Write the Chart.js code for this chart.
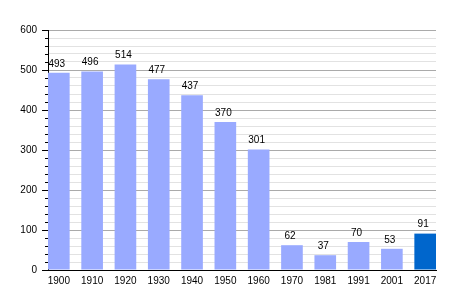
<!DOCTYPE html>
<html>
<head>
<meta charset="utf-8">
<script src="https://cdn.jsdelivr.net/npm/chart.js@4"></script>
<style>
  html, body { margin: 0; padding: 0; background: #fff; }
  #wrap { width: 464px; height: 300px; }
</style>
</head>
<body>
<div id="wrap"><canvas id="popChart" width="464" height="300"></canvas></div>
<script>
// Data
const years = ['1900', '1910', '1920', '1930', '1940', '1950', '1960', '1970', '1981', '1991', '2001', '2017'];
const population = [493, 496, 514, 477, 437, 370, 301, 62, 37, 70, 53, 91];
const barColors = ['#99aaff', '#99aaff', '#99aaff', '#99aaff', '#99aaff', '#99aaff',
                   '#99aaff', '#99aaff', '#99aaff', '#99aaff', '#99aaff', '#0066cc'];
const yMax = 600;
const yStep = 20;

// draws the numbers above each bar
const valueLabels = {
    id: 'valueLabels',
    afterDatasetsDraw(chart) {
        const ctx = chart.ctx;
        const meta = chart.getDatasetMeta(0);
        ctx.save();
        ctx.font = '10px "Liberation Sans", Arial, sans-serif';
        ctx.fillStyle = '#000';
        ctx.textAlign = 'center';
        ctx.textBaseline = 'bottom';
        meta.data.forEach((bar, i) => {
            ctx.fillText(population[i], bar.x - 2, bar.y - 4);
        });
        ctx.restore();
    }
};

// y-axis tick marks: long on hundreds, short otherwise
const yTickMarks = {
    id: 'yTickMarks',
    afterDraw(chart) {
        const ctx = chart.ctx;
        const y = chart.scales.y;
        const left = chart.chartArea.left;
        ctx.save();
        ctx.strokeStyle = '#000';
        ctx.lineWidth = 1;
        y.ticks.forEach(t => {
            const py = Math.round(y.getPixelForValue(t.value)) + 0.5;
            const len = t.value % 100 === 0 ? 6 : 3;
            ctx.beginPath();
            ctx.moveTo(left - len, py);
            ctx.lineTo(left, py);
            ctx.stroke();
        });
        ctx.restore();
    }
};

const ctx = document.getElementById('popChart').getContext('2d');
new Chart(ctx, {
    type: 'bar',
    data: {
        datasets: [{
            data: years.map((yr, i) => ({ x: i, y: population[i] })),
            backgroundColor: barColors,
            borderWidth: 0,
            barPercentage: 0.65,
            categoryPercentage: 1
        }]
    },
    options: {
        responsive: false,
        animation: false,
        layout: { padding: { top: 30, right: 28, left: 0, bottom: 0 } },
        plugins: { legend: { display: false }, tooltip: { enabled: false } },
        scales: {
            x: {
                type: 'linear',
                min: -0.325,
                max: years.length - 0.675,
                offset: false,
                grid: { display: false, drawTicks: false },
                border: { display: true, color: '#000', width: 1 },
                afterFit: s => { s.height = 30; },
                afterBuildTicks: s => {
                    s.ticks = years.map((yr, i) => ({ value: i }));
                },
                ticks: {
                    autoSkip: false,
                    maxRotation: 0,
                    padding: 5,
                    color: '#000',
                    font: { family: '"Liberation Sans", Arial, sans-serif', size: 10 },
                    callback: v => years[v] !== undefined ? years[v] : ''
                }
            },
            y: {
                min: 0,
                max: yMax,
                afterFit: s => { s.width = 48; },
                grid: {
                    drawTicks: false,
                    color: c => c.tick.value % 100 === 0 ? '#aaaaaa' : '#e2e2e2'
                },
                border: { display: true, color: '#000', width: 1 },
                ticks: {
                    stepSize: yStep,
                    autoSkip: false,
                    padding: 11,
                    color: '#000',
                    font: { family: '"Liberation Sans", Arial, sans-serif', size: 10 },
                    callback: v => v % 100 === 0 ? v : ''
                }
            }
        }
    },
    plugins: [valueLabels, yTickMarks]
});
</script>
</body>
</html>
